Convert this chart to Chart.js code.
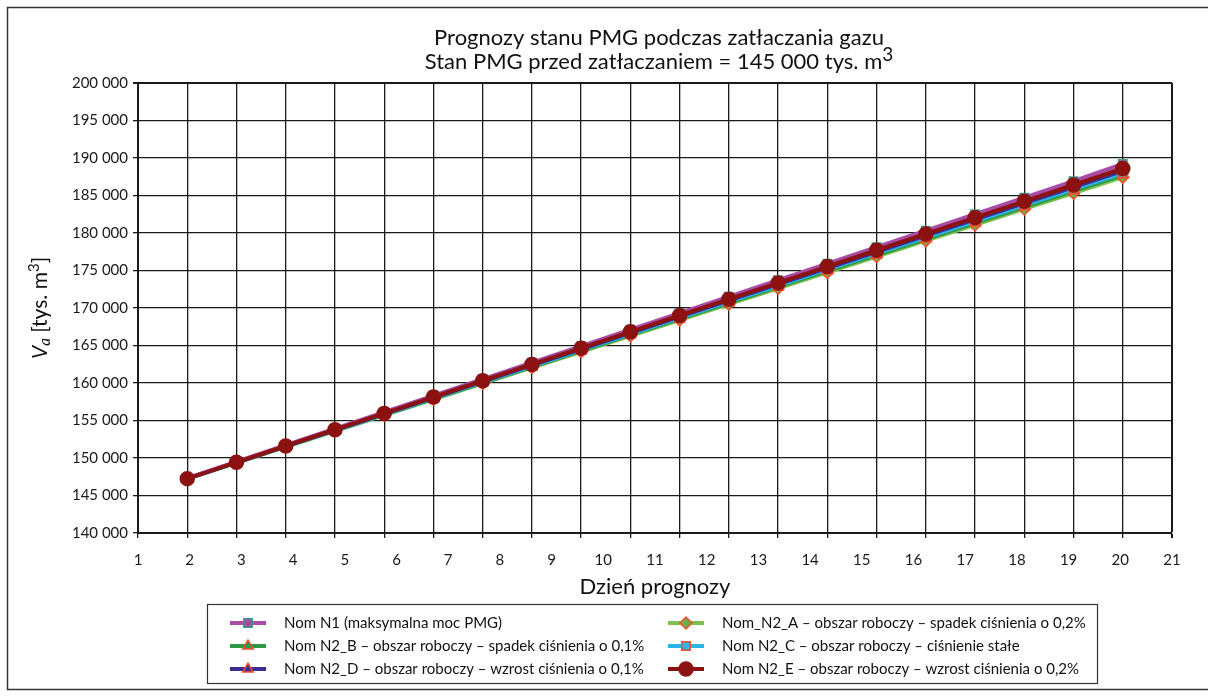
<!DOCTYPE html>
<html>
<head>
<meta charset="utf-8">
<script src="https://cdn.jsdelivr.net/npm/chart.js@4/dist/chart.umd.min.js"></script>
<style>
  html, body { margin: 0; padding: 0; background: #fff; }
  #wrap { position: relative; width: 1208px; height: 700px; }
  canvas { display: block; }
</style>
</head>
<body>
<div id="wrap"><canvas id="c" width="1208" height="700"></canvas></div>
<script>
// ---- data ----
const days = [1, 2, 3, 4, 5, 6, 7, 8, 9, 10, 11, 12, 13, 14, 15, 16, 17, 18, 19, 20];
const nomN1  = [147300, 149500, 151700, 153900, 156100, 158300, 160500, 162700, 164900, 167100, 169300, 171500, 173700, 175900, 178100, 180300, 182500, 184700, 186900, 189200];
const nomN2A = [147250, 149370, 151480, 153600, 155710, 157830, 159940, 162060, 164170, 166290, 168400, 170520, 172630, 174750, 176860, 178980, 181090, 183210, 185320, 187450];
const nomN2B = [147250, 149380, 151510, 153640, 155770, 157900, 160030, 162160, 164290, 166420, 168550, 170680, 172810, 174940, 177070, 179200, 181330, 183460, 185590, 187720];
const nomN2C = [147250, 149400, 151540, 153690, 155830, 157980, 160120, 162270, 164410, 166560, 168700, 170850, 172990, 175140, 177280, 179430, 181570, 183720, 185860, 188000];
const nomN2D = [147250, 149410, 151570, 153730, 155890, 158050, 160210, 162370, 164530, 166690, 168850, 171010, 173170, 175330, 177490, 179650, 181810, 183970, 186130, 188300];
const nomN2E = [147250, 149420, 151600, 153780, 155950, 158130, 160300, 162480, 164650, 166830, 169000, 171180, 173350, 175530, 177700, 179880, 182050, 184230, 186400, 188600];
const seriesNames = [
  'Nom N1 (maksymalna moc PMG)',
  'Nom_N2_A \u2013 obszar roboczy \u2013 spadek ci\u015bnienia o 0,2%',
  'Nom N2_B \u2013 obszar roboczy \u2013 spadek ci\u015bnienia o 0,1%',
  'Nom N2_C \u2013 obszar roboczy \u2013 ci\u015bnienie sta\u0142e',
  'Nom N2_D \u2013 obszar roboczy \u2013 wzrost ci\u015bnienia o 0,1%',
  'Nom N2_E \u2013 obszar roboczy \u2013 wzrost ci\u015bnienia o 0,2%'
];
const yMin = 140000, yMax = 200000, yStep = 5000;
const dayTickMin = 1, dayTickMax = 21;
const titleLine1 = 'Prognozy stanu PMG podczas zat\u0142aczania gazu';
const titleLine2 = 'Stan PMG przed zat\u0142aczaniem = 145 000 tys. m';
const xTitle = 'Dzie\u0144 prognozy';

const FONT = 'Lato, "Liberation Sans", sans-serif';
const ORANGE = '#f0502a';

function pts(arr) { return arr.map((v, i) => ({ x: days[i], y: v })); }

const datasets = [
  { label: seriesNames[0], data: pts(nomN1),  borderColor: '#a84ca8', backgroundColor: '#a04fa0', pointBorderColor: '#3f9c84', pointStyle: 'rect', pointRadius: 6, order: 1 },
  { label: seriesNames[1], data: pts(nomN2A), borderColor: '#7cc24e', backgroundColor: '#6cb04a', pointBorderColor: ORANGE, pointStyle: 'rectRot', pointRadius: 6, order: 5 },
  { label: seriesNames[2], data: pts(nomN2B), borderColor: '#2e9a48', backgroundColor: '#2e9a48', pointBorderColor: ORANGE, pointStyle: 'triangle', pointRadius: 6, order: 4 },
  { label: seriesNames[3], data: pts(nomN2C), borderColor: '#2cb6e8', backgroundColor: '#2cb6e8', pointBorderColor: ORANGE, pointStyle: 'rect', pointRadius: 6, order: 3 },
  { label: seriesNames[4], data: pts(nomN2D), borderColor: '#3b2e90', backgroundColor: '#3b2e90', pointBorderColor: ORANGE, pointStyle: 'triangle', pointRadius: 6, order: 2 },
  { label: seriesNames[5], data: pts(nomN2E), borderColor: '#8c1212', backgroundColor: '#8c1212', pointBorderColor: '#8c1212', pointStyle: 'circle', pointRadius: 7, order: 0 }
];
datasets.forEach(d => {
  d.borderWidth = 4;
  d.pointBackgroundColor = d.backgroundColor;
  d.pointBorderWidth = 1.5;
  d.pointHoverRadius = d.pointRadius;
  d.tension = 0;
  d.fill = false;
});

function drawParts(ctx, parts, cx, cy) {
  let total = 0;
  parts.forEach(p => { ctx.font = p.font; p.w = ctx.measureText(p.text).width; total += p.w; });
  let x = cx - total / 2;
  parts.forEach(p => {
    ctx.font = p.font;
    ctx.fillText(p.text, x, cy + (p.dy || 0));
    x += p.w;
  });
}

const decor = {
  id: 'decor',
  beforeDraw(chart) {
    const ctx = chart.ctx;
    ctx.save();
    ctx.fillStyle = '#fff';
    ctx.fillRect(0, 0, chart.width, chart.height);
    ctx.strokeStyle = '#333';
    ctx.lineWidth = 1.5;
    ctx.strokeRect(7.5, 7.5, 1215, 682);
    ctx.restore();
  },
  afterDraw(chart) {
    const ctx = chart.ctx;
    const ca = chart.chartArea;
    const cx = (ca.left + ca.right) / 2 + 4;
    ctx.save();
    ctx.fillStyle = '#111';
    ctx.textBaseline = 'middle';
    ctx.textAlign = 'left';
    // title
    drawParts(ctx, [{ text: titleLine1, font: '22px ' + FONT }], cx, 38);
    drawParts(ctx, [{ text: titleLine2, font: '22px ' + FONT }, { text: '3', font: '19px ' + FONT, dy: -7 }], cx, 62);
    // y-axis title
    ctx.save();
    ctx.translate(40, (ca.top + ca.bottom) / 2);
    ctx.rotate(-Math.PI / 2);
    drawParts(ctx, [
      { text: 'V', font: 'italic 21px ' + FONT },
      { text: 'a', font: 'italic 15px ' + FONT, dy: 5 },
      { text: ' [tys. m', font: '21px ' + FONT },
      { text: '3', font: '15px ' + FONT, dy: -6 },
      { text: ']', font: '21px ' + FONT }
    ], 0, 0);
    ctx.restore();
    // legend
    const box = { l: 207, t: 604, r: 1097, b: 683 };
    ctx.strokeStyle = '#333';
    ctx.lineWidth = 1.2;
    ctx.strokeRect(box.l + 0.5, box.t + 0.5, box.r - box.l, box.b - box.t);
    const colX = [248, 686];
    const rowY = [623, 646, 669];
    chart.data.datasets.forEach((ds, i) => {
      const mx = colX[i % 2], my = rowY[Math.floor(i / 2)];
      ctx.strokeStyle = ds.borderColor;
      ctx.lineWidth = 4;
      ctx.beginPath();
      ctx.moveTo(mx - 18, my);
      ctx.lineTo(mx + 18, my);
      ctx.stroke();
      ctx.fillStyle = ds.pointBackgroundColor;
      ctx.strokeStyle = ds.pointBorderColor;
      ctx.lineWidth = 1.5;
      Chart.helpers.drawPoint(ctx, { pointStyle: ds.pointStyle, radius: ds.pointRadius, borderWidth: 1.5, rotation: 0 }, mx, my);
      ctx.fillStyle = '#111';
      ctx.font = '15px ' + FONT;
      ctx.textAlign = 'left';
      ctx.fillText(ds.label, mx + 36, my);
    });
    ctx.restore();
  }
};

new Chart(document.getElementById('c'), {
  type: 'line',
  data: { datasets },
  options: {
    responsive: false,
    animation: false,
    devicePixelRatio: 1,
    layout: { padding: { left: 0, top: 83, right: 36, bottom: 100 } },
    plugins: { legend: { display: false }, title: { display: false }, tooltip: { enabled: false } },
    scales: {
      x: {
        type: 'linear', position: 'bottom', min: 0, max: 21,
        ticks: { display: false, stepSize: 1 },
        grid: {
          color: '#1a1a1a',
          lineWidth: c => (c.tick && c.tick.value === 21 ? 2 : 1.3),
          tickLength: 5, drawTicks: true
        },
        border: { display: true, color: '#1a1a1a', width: 2 },
        afterFit: s => { s.height = 5; }
      },
      xDays: {
        type: 'linear', position: 'bottom', min: dayTickMin, max: dayTickMax,
        ticks: { stepSize: 1, color: '#1a1a1a', font: { family: FONT, size: 15 }, padding: 5, maxRotation: 0, autoSkip: false },
        grid: { display: false },
        border: { display: false },
        title: { display: true, text: xTitle, color: '#111', font: { family: FONT, size: 22 }, padding: { top: 6, bottom: 0 } },
        afterFit: s => { s.height = 62; }
      },
      y: {
        type: 'linear', min: yMin, max: yMax,
        ticks: {
          stepSize: yStep, color: '#1a1a1a', font: { family: FONT, size: 15 }, padding: 5,
          callback: v => String(v).replace(/\B(?=(\d{3})+(?!\d))/g, ' ')
        },
        grid: {
          color: '#1a1a1a',
          lineWidth: c => (c.tick && c.tick.value === yMax ? 2 : 1.3),
          tickLength: 5
        },
        border: { display: true, color: '#1a1a1a', width: 2 },
        afterFit: s => { s.width = 138; }
      }
    }
  },
  plugins: [decor]
});
</script>
</body>
</html>
